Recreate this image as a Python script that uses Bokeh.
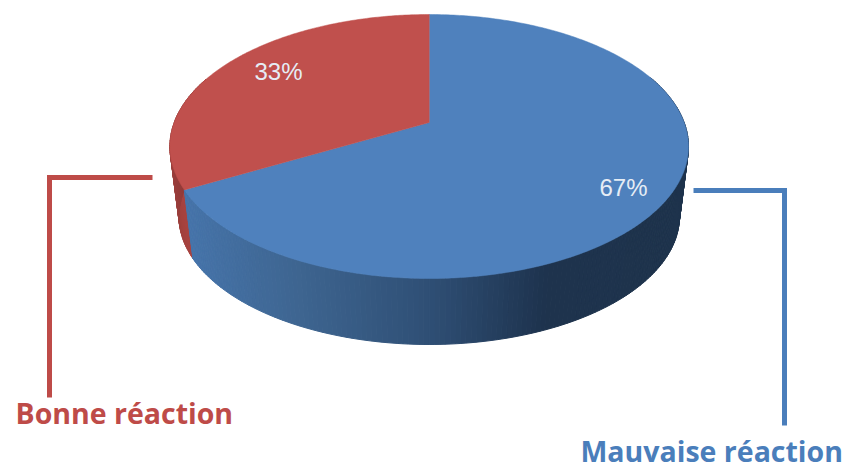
import numpy as np
from bokeh.plotting import figure
from bokeh.embed import file_html
from bokeh.resources import INLINE
from bokeh.core.properties import value

categories = ["Mauvaise réaction", "Bonne réaction"]
shares = [67, 33]
percent_labels = ["67%", "33%"]

W, H = 845, 464
p = figure(width=W, height=H, x_range=(0, W), y_range=(H, 0),
           output_backend="svg", toolbar_location=None, min_border=0)
p.axis.visible = False
p.grid.visible = False
p.outline_line_color = None
p.background_fill_color = "white"
p.border_fill_color = "white"
p.styles = {"position": "absolute", "left": "0px", "top": "0px"}

# Perspective projection of the pie's top disc (angle clockwise from 12 o'clock)
CX, APEX_Y, R, PERSP, A = 428.7, 122.0, 255.0, 48 / 264, -105.45
def top(t):
    u, v = np.sin(t), np.cos(t)
    d = 1 + PERSP * v
    return CX + R * u / d, (A * v + APEX_Y) / d
def low(t):
    x, y = top(t)
    return CX + 0.965 * (x - CX), 344 + 0.97 * (y - 278)

stops_x = [185, 300, 430, 545, 700]
stops_c = [(0x47, 0x75, 0xAB), (0x3E, 0x65, 0x90), (0x2F, 0x4F, 0x75), (0x1E, 0x33, 0x4E), (0x1E, 0x33, 0x4C)]
def shade(x):
    c = [int(np.interp(x, stops_x, [s[i] for s in stops_c])) for i in range(3)]
    return "#%02x%02x%02x" % tuple(c)

split = 2 * np.pi * shares[0] / sum(shares)

def wall(edges, colour):
    xs, ys, cols = [], [], []
    for a, b in zip(edges[:-1], edges[1:]):
        xa, ya = top(a); xb, yb = top(b)
        la, ma = low(a); lb, mb = low(b)
        xs.append([xa, xb, lb, la]); ys.append([ya, yb, mb, ma])
        cols.append(colour(a, (xa + xb + la + lb) / 4))
    p.patches(xs, ys, fill_color=cols, line_color=cols, line_width=1)

def red_shade(t, x):
    f = float(np.clip((t - split) / (np.radians(275) - split), 0, 1))
    c = [int(a + (b - a) * f) for a, b in zip((0xA9, 0x43, 0x40), (0x8E, 0x3A, 0x38))]
    return "#%02x%02x%02x" % tuple(c)

# red wall behind the blue one
wall(np.radians(np.arange(np.degrees(split), 292, 1.0)), red_shade)
wall(np.append(np.radians(np.arange(68, np.degrees(split), 1.0)), split), lambda t, x: shade(x))

# top slices
tb = np.linspace(0, split, 300)
xb, yb = top(tb)
p.patch([CX] + list(xb), [APEX_Y] + list(yb), fill_color="#4f81bd", line_color="#4f81bd", line_width=0.5)
tr = np.linspace(split, 2 * np.pi, 200)
xr, yr = top(tr)
p.patch([CX] + list(xr), [APEX_Y] + list(yr), fill_color="#c0504d", line_color="#c0504d", line_width=0.5)

# leader lines
p.line([152, 49, 49], [177, 177, 397], line_color="#be4b48", line_width=5, line_join="miter")
p.line([693, 784, 784], [190, 190, 425], line_color="#4a7ebb", line_width=5, line_join="miter")

# percent labels
p.text([623, 278], [187, 71], text=percent_labels, text_font=value("Liberation Sans"),
       text_font_size="24px", text_color="#e6edf5", text_align="center", text_baseline="middle")

# category labels
p.text([580], [450], text=[categories[0]], text_font=value("Open Sans"), text_font_style="bold",
       text_font_size="28.5px", text_color="#4a7ebb", text_align="left", text_baseline="middle")
p.text([15], [412], text=[categories[1]], text_font=value("Open Sans"), text_font_style="bold",
       text_font_size="28.5px", text_color="#be4b48", text_align="left", text_baseline="middle")

open("out.html", "w").write(file_html(p, INLINE))
